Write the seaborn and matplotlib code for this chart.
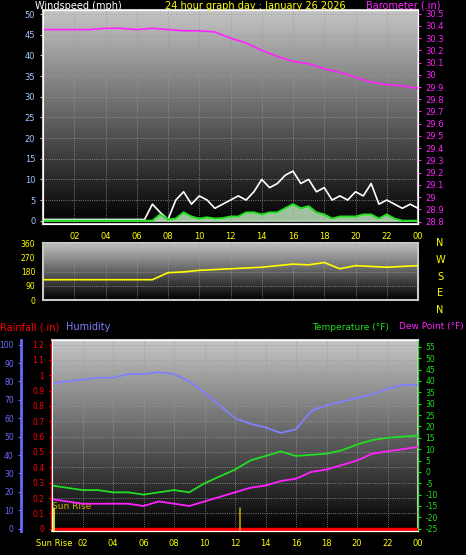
import numpy as np
import pandas as pd
import matplotlib
matplotlib.use("Agg")
import matplotlib.pyplot as plt
import seaborn as sns
from matplotlib.colors import LinearSegmentedColormap

sns.set_style("dark")
plt.rcParams["font.family"] = ["DejaVu Sans"]
plt.rcParams["axes.unicode_minus"] = False

hours = list(range(25))
half_hours = [h / 2 for h in range(49)]
tick_hours = [2, 4, 6, 8, 10, 12, 14, 16, 18, 20, 22, 24]
tick_labels = ["02", "04", "06", "08", "10", "12", "14", "16", "18", "20", "22", "00"]

barometer = [30.37, 30.37, 30.37, 30.37, 30.38, 30.38, 30.37, 30.38, 30.37, 30.36, 30.36,
             30.35, 30.30, 30.26, 30.20, 30.15, 30.11, 30.09, 30.05, 30.02, 29.98, 29.94,
             29.92, 29.91, 29.89]
gust = [0.3] * 14 + [4, 2, 0.3, 5, 7, 4, 6, 5, 3, 4, 5, 6, 5, 7, 10, 8, 9, 11, 12, 9,
                     10, 7, 8, 5, 6, 5, 7, 6, 9, 4, 5, 4, 3, 4, 3]
avg_speed = [0] * 14 + [0, 1.5, 0.3, 0.5, 2, 1, 0.5, 0.8, 0.5, 0.6, 1, 1, 2, 2, 1.5, 2,
                        2, 3, 4, 3, 3.5, 2, 1.5, 0.5, 1, 1, 1, 1.5, 1.5, 0.5, 1.5, 0.5, 0, 0, 0]
direction = [130] * 8 + [175, 180, 190, 195, 200, 205, 210, 220, 230, 225, 240, 200, 220,
                         215, 210, 215, 220]
humidity = [79, 80, 81, 82, 82, 84, 84, 85, 84, 80, 74, 67, 60, 57, 55, 52, 54, 64, 67, 69,
            71, 73, 76, 78, 78]
temperature = [-6, -7, -8, -8, -9, -9, -10, -9, -8, -9, -5, -2, 1, 5, 7, 9, 7, 7.5, 8, 9.5,
               12, 14, 15, 15.5, 16]
dew_point = [-12, -13, -14, -14, -14, -14, -15, -13, -14, -15, -13, -11, -9, -7, -6, -4, -3,
             0, 1, 3, 5, 8, 9, 10, 11]
rainfall = [0] * 25

W, H = 466, 555
fig = plt.figure(figsize=(W / 100, H / 100), dpi=100, facecolor="black")
grad = LinearSegmentedColormap.from_list("g", ["#000000", "#c4c4c4"])


def make_ax(x0, y0, x1, y1):
    ax = fig.add_axes([x0 / W, 1 - y1 / H, (x1 - x0) / W, (y1 - y0) / H])
    ax.imshow(np.linspace(0, 1, 100)[:, None], extent=[0, 1, 0, 1], aspect="auto",
              cmap=grad, origin="lower", transform=ax.transAxes, zorder=0)
    ax.set_xlim(0, 24)
    ax.set_xticks(tick_hours)
    ax.grid(True, color="#9a9a9a", linestyle=":", linewidth=0.6)
    ax.set_axisbelow(False)
    for s in ax.spines.values():
        s.set_color("#c8c8c8")
        s.set_linewidth(1.5)
    ax.tick_params(labelsize=6, length=2, colors="#c8c8c8")
    return ax


# ---- wind / barometer
ax1 = make_ax(43, 10, 418, 224)
ax1.set_ylim(-0.8, 51)
ax1.set_yticks(range(0, 51, 5))
ax1.set_xticklabels(tick_labels, color="yellow")
ax1.tick_params(axis="y", labelcolor="#a0c8ff")
ax1.fill_between(half_hours, 0, avg_speed, color="#c8f0c8", alpha=0.8, zorder=2)
sns.lineplot(x=half_hours, y=gust, ax=ax1, color="white", lw=1.2, zorder=3)
sns.lineplot(x=half_hours, y=avg_speed, ax=ax1, color="#22dd22", lw=1.5, zorder=4)
ax1b = ax1.twinx()
ax1b.set_ylim(28.78, 30.53)
ax1b.set_yticks(np.round(np.arange(28.8, 30.55, 0.1), 1))
ax1b.set_yticklabels([f"{v:g}" for v in np.round(np.arange(28.8, 30.55, 0.1), 1)])
ax1b.tick_params(labelsize=6, length=2, colors="#ff22ff")
ax1b.grid(False)
sns.lineplot(x=hours, y=barometer, ax=ax1b, color="#ff22ff", lw=1.2)
ax1.set_xlim(0, 24)

fig.text(35 / W, 1 - 6 / H, "Windspeed (mph)", color="white", fontsize=7, va="center")
fig.text(255 / W, 1 - 6 / H, "24 hour graph day : January 26 2026", color="yellow",
         fontsize=7, va="center", ha="center")
fig.text(440 / W, 1 - 6 / H, "Barometer (.in)", color="#ff22ff", fontsize=7,
         va="center", ha="right")

# ---- wind direction
ax2 = make_ax(43, 243, 418, 300)
ax2.set_ylim(0, 365)
ax2.set_yticks([0, 90, 180, 270, 360])
ax2.set_xticklabels([])
ax2.tick_params(axis="y", labelcolor="yellow", labelsize=5.5)
sns.lineplot(x=hours, y=direction, ax=ax2, color="yellow", lw=1.2, zorder=3)
for lab, yy in zip(["N", "W", "S", "E", "N"], [243, 260, 277, 293, 310]):
    fig.text(440 / W, 1 - yy / H, lab, color="yellow", fontsize=7, va="center", ha="center")

# ---- rainfall / humidity / temperature
ax3 = make_ax(52, 340, 418, 531)
ax3.set_ylim(-0.015, 1.23)
ax3.set_yticks(np.round(np.arange(0, 1.21, 0.1), 1))
ax3.set_yticklabels([f"{v:g}" for v in np.round(np.arange(0, 1.21, 0.1), 1)])
ax3.tick_params(axis="y", labelcolor="red", colors="red", labelsize=5.5)
ax3.spines["left"].set_color("red")
ax3.set_xticklabels(tick_labels, color="yellow")
sns.lineplot(x=hours, y=rainfall, ax=ax3, color="red", lw=2.5, zorder=5)
ax3.axvline(0.1, color="yellow", lw=1.2, ymax=0.12, zorder=5)
ax3.axvline(12.3, color="#b8a000", lw=1.2, ymax=0.12, zorder=5)
ax3.text(0.0, 0.13, "Sun Rise", color="#c8b400", fontsize=6.5, zorder=6)

ax3h = ax3.twinx()
ax3h.yaxis.tick_left()
ax3h.spines["left"].set_position(("outward", 22))
ax3h.spines["left"].set_color("#6a6aff")
ax3h.spines["left"].set_linewidth(2)
ax3h.set_ylim(-1.3, 102.5)
ax3h.set_yticks(range(0, 101, 10))
ax3h.tick_params(labelsize=5.5, length=2, colors="#6a6aff")
ax3h.grid(False)
sns.lineplot(x=hours, y=humidity, ax=ax3h, color="#8080ff", lw=1.3)

ax3t = ax3.twinx()
ax3t.set_ylim(-26, 58)
ax3t.set_yticks(range(-25, 56, 5))
ax3t.tick_params(labelsize=5.5, length=2, colors="#22dd22")
ax3t.spines["right"].set_color("#22dd22")
ax3t.grid(False)
sns.lineplot(x=hours, y=temperature, ax=ax3t, color="#22dd22", lw=1.3)
sns.lineplot(x=hours, y=dew_point, ax=ax3t, color="#ff22ff", lw=1.3)
ax3.set_xlim(0, 24)

fig.text(0, 1 - 327 / H, "Rainfall (.in)", color="red", fontsize=7, va="center")
fig.text(66 / W, 1 - 327 / H, "Humidity", color="#8080ff", fontsize=7, va="center")
fig.text(312 / W, 1 - 327 / H, "Temperature (°F)", color="#22dd22", fontsize=6.5, va="center")
fig.text(464 / W, 1 - 327 / H, "Dew Point (°F)", color="#ff22ff", fontsize=6.5,
         va="center", ha="right")
fig.text(54 / W, 1 - 543 / H, "Sun Rise", color="yellow", fontsize=6, va="center",
         ha="center")

fig.savefig("out.png", dpi=100, facecolor="black")
